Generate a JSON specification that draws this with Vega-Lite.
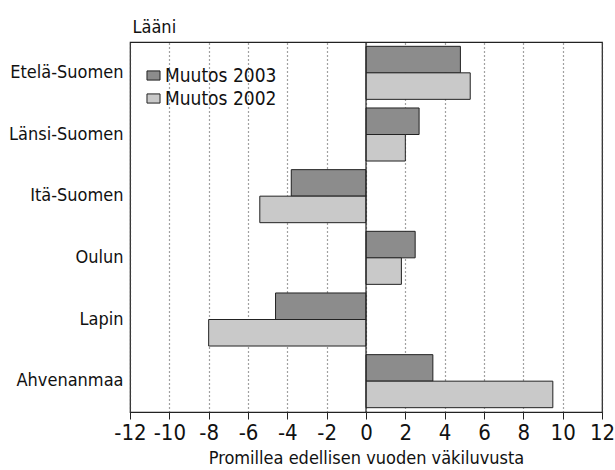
{
  "$schema": "https://vega.github.io/schema/vega-lite/v6.json",
  "autosize": "none",
  "width": 472,
  "height": 370,
  "padding": {"left": 130, "top": 42, "right": 13, "bottom": 58},
  "config": {
    "font": "Liberation Sans Narrow, DejaVu Sans Condensed, Open Sans",
    "view": {"stroke": "#222", "strokeWidth": 1.2},
    "axisX": {
      "values": [-12, -10, -8, -6, -4, -2, 0, 2, 4, 6, 8, 10, 12],
      "labelExpr": "replace(format(datum.value, 'd'), '−', '-')",
      "labelOverlap": false, "labelFlush": false,
      "labelFontSize": 22, "labelColor": "#111", "labelPadding": 3,
      "tickSize": 7, "tickColor": "#222", "domain": false,
      "grid": true, "gridDash": [1, 3], "gridColor": "#444", "gridWidth": 1.2,
      "titleFontSize": 18, "titleFontWeight": "normal", "titleColor": "#111", "titlePadding": 6
    }
  },
  "data": {
    "values": [
      {"laani": "Etelä-Suomen", "sarja": "Muutos 2003", "arvo": 4.8},
      {"laani": "Etelä-Suomen", "sarja": "Muutos 2002", "arvo": 5.3},
      {"laani": "Länsi-Suomen", "sarja": "Muutos 2003", "arvo": 2.7},
      {"laani": "Länsi-Suomen", "sarja": "Muutos 2002", "arvo": 2.0},
      {"laani": "Itä-Suomen", "sarja": "Muutos 2003", "arvo": -3.8},
      {"laani": "Itä-Suomen", "sarja": "Muutos 2002", "arvo": -5.4},
      {"laani": "Oulun", "sarja": "Muutos 2003", "arvo": 2.5},
      {"laani": "Oulun", "sarja": "Muutos 2002", "arvo": 1.8},
      {"laani": "Lapin", "sarja": "Muutos 2003", "arvo": -4.6},
      {"laani": "Lapin", "sarja": "Muutos 2002", "arvo": -8.0},
      {"laani": "Ahvenanmaa", "sarja": "Muutos 2003", "arvo": 3.4},
      {"laani": "Ahvenanmaa", "sarja": "Muutos 2002", "arvo": 9.5}
    ]
  },
  "layer": [
    {
      "mark": {"type": "bar", "stroke": "#222", "strokeWidth": 1},
      "encoding": {
        "y": {
          "field": "laani", "type": "nominal",
          "sort": ["Etelä-Suomen", "Länsi-Suomen", "Itä-Suomen", "Oulun", "Lapin", "Ahvenanmaa"],
          "scale": {"paddingInner": 0.14, "paddingOuter": 0.07},
          "axis": {
            "title": "Lääni", "titleAngle": 0, "titleAlign": "left", "titleBaseline": "alphabetic",
            "titleX": 2, "titleY": -10, "titleFontSize": 18, "titleFontWeight": "normal", "titleColor": "#111",
            "labelFontSize": 18, "labelColor": "#111", "ticks": false, "labelPadding": 7, "domain": false
          }
        },
        "yOffset": {"field": "sarja", "type": "nominal", "sort": ["Muutos 2003", "Muutos 2002"]},
        "x": {
          "field": "arvo", "type": "quantitative",
          "scale": {"domain": [-12, 12], "nice": false},
          "axis": {"title": "Promillea edellisen vuoden väkiluvusta"}
        },
        "fill": {
          "field": "sarja", "type": "nominal",
          "scale": {"domain": ["Muutos 2003", "Muutos 2002"], "range": ["#8c8c8c", "#c9c9c9"]},
          "legend": {
            "title": null, "orient": "none", "legendX": 14, "legendY": 24,
            "labelFontSize": 19, "labelColor": "#111", "labelOffset": 2,
            "symbolType": "M-1,-0.7H1V0.7H-1Z", "symbolSize": 170, "symbolStrokeColor": "#222", "symbolStrokeWidth": 1,
            "rowPadding": 3
          }
        }
      }
    },
    {
      "mark": {"type": "rule", "color": "#222", "strokeWidth": 1.2},
      "data": {"values": [{"x": 0}]},
      "encoding": {"x": {"field": "x", "type": "quantitative", "axis": {"title": "Promillea edellisen vuoden väkiluvusta"}}}
    }
  ]
}
